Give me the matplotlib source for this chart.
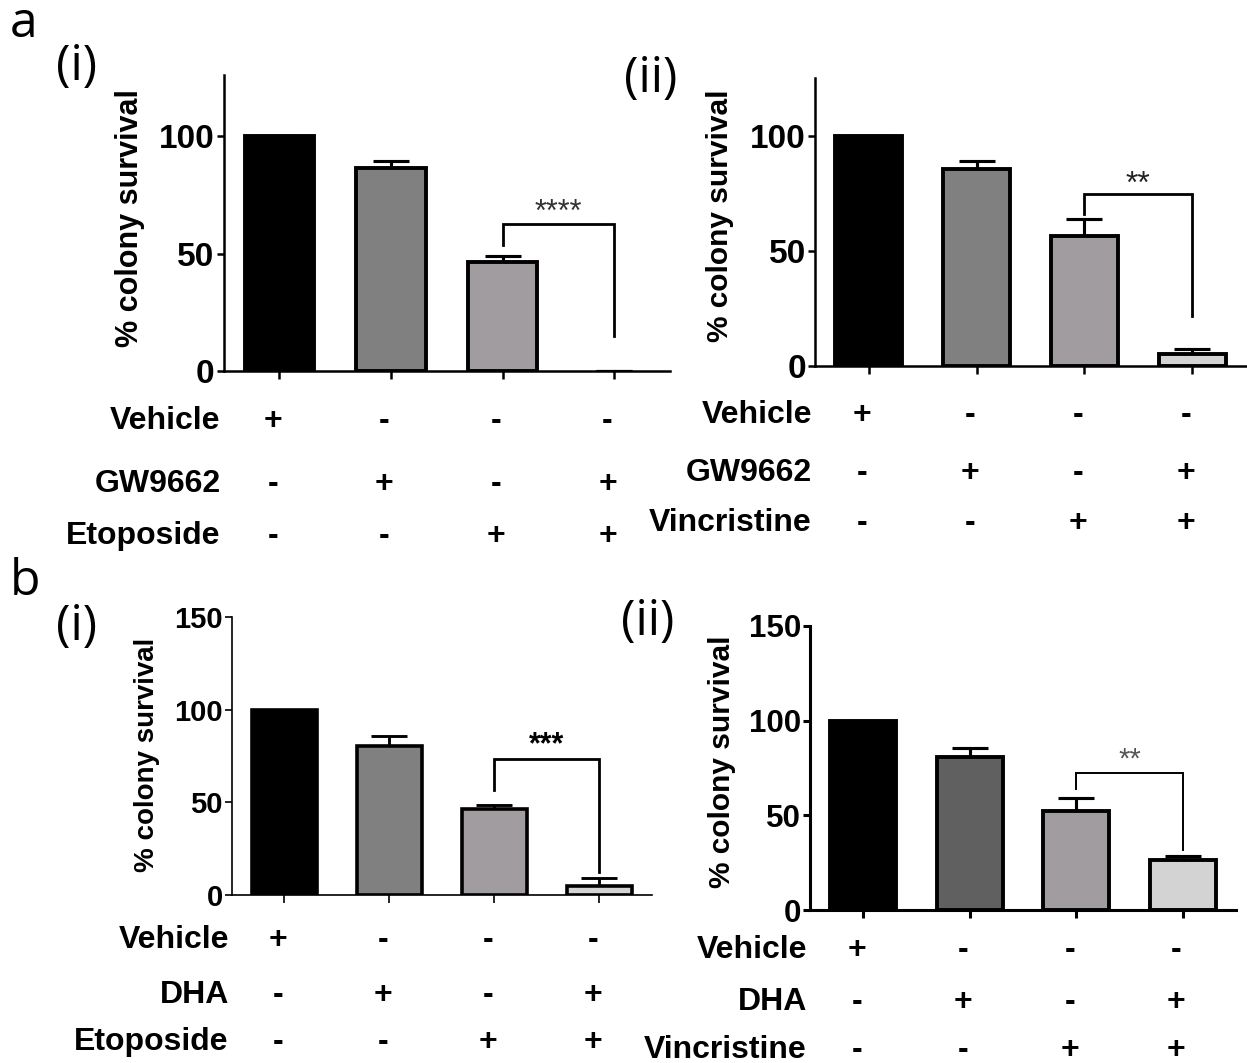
import matplotlib
matplotlib.use('Agg')
from matplotlib import pyplot as plt
from matplotlib import transforms

# bar heights and SEM, order: vehicle, drug, chemo, drug + chemo
a_i_values = [100, 86.3, 46.2, 0]
a_i_errors = [0, 2.8, 2.6, 0]
a_ii_values = [100, 85.8, 56.6, 5.1]
a_ii_errors = [0, 3.4, 7.3, 2.0]
b_i_values = [100, 80.5, 46.3, 4.9]
b_i_errors = [0, 5.1, 2.3, 4.4]
b_ii_values = [100, 80.6, 52.2, 26.2]
b_ii_errors = [0, 4.7, 7.1, 2.5]

# treatment rows under each chart
vehicle_row = ['+', '-', '-', '-']
drug_row = ['-', '+', '-', '+']
chemo_row = ['-', '-', '+', '+']

a_i_rows = ['Vehicle', 'GW9662', 'Etoposide']
a_ii_rows = ['Vehicle', 'GW9662', 'Vincristine']
b_i_rows = ['Vehicle', 'DHA', 'Etoposide']
b_ii_rows = ['Vehicle', 'DHA', 'Vincristine']

# significance brackets: bar level, left leg end, right leg end, stars level
a_i_sig = (62.6, 53.8, 15.1, 67.4, '****')
a_ii_sig = (74.7, 66.1, 21.7, 79.0, '**')
b_i_sig = (73.5, 56.8, 12.6, 81.0, '***')
b_ii_sig = (72.1, 63.7, 31.9, 79.7, '**')

a_yticks = [0, 50, 100]
b_yticks = [0, 50, 100, 150]

W, H = 1247, 1063
plt.rcParams['font.family'] = ['Liberation Sans', 'DejaVu Sans']

fig = plt.figure(figsize=(W / 100, H / 100), dpi=100)


def fx(px):
    return px / W


def fy(py):
    return 1 - py / H


def panel(rect, values, errors, colors, yticks, ylim, rows, row_y, sig,
          spine_lw, edge_lw, br_lw, tick_size, lab_size, lab_xy, star_color,
          star_weight, star_size, name, name_xy):
    left, top, right, bottom = rect
    ax = fig.add_axes([fx(left), fy(bottom), fx(right - left), (bottom - top) / H])
    x = range(len(values))
    edges = ['black' if v > 0 else 'none' for v in values]
    ax.bar(x, values, width=0.62, color=colors, edgecolor=edges,
           linewidth=edge_lw, zorder=2)
    ax.errorbar(x, values, yerr=[[0] * len(errors), errors], fmt='none',
                ecolor='black', elinewidth=edge_lw * 0.8, capsize=13,
                capthick=edge_lw * 0.8, zorder=1)
    ax.set_xlim(-0.5, 3.5)
    ax.set_ylim(*ylim)
    ax.set_yticks(yticks)
    ax.set_xticks(list(x))
    ax.set_xticklabels([])
    for s in ['top', 'right']:
        ax.spines[s].set_visible(False)
    for s in ['left', 'bottom']:
        ax.spines[s].set_linewidth(spine_lw)
    ax.tick_params(axis='y', length=5, width=spine_lw, pad=1.5,
                   labelsize=tick_size)
    ax.tick_params(axis='x', length=6, width=spine_lw)
    for lab in ax.get_yticklabels():
        lab.set_fontweight('bold')

    # significance bracket
    y_bar, y_l, y_r, y_star, stars = sig
    ax.plot([2, 2, 3, 3], [y_l, y_bar, y_bar, y_r], color='black',
            lw=br_lw, solid_joinstyle='miter', clip_on=False)
    ax.text(2.5, y_star, stars, ha='center', va='center', fontsize=star_size,
            color=star_color, fontweight=star_weight)

    fig.text(fx(lab_xy[0]), fy(lab_xy[1]), '% colony survival', rotation=90,
             ha='center', va='center', fontsize=lab_size, fontweight='bold')

    trans = transforms.blended_transform_factory(ax.transData, fig.transFigure)
    for label, signs, yy in zip(rows, [vehicle_row, drug_row, chemo_row], row_y):
        fig.text(fx(left - 3), fy(yy), label, ha='right', va='center',
                 fontsize=23, fontweight='bold')
        for i, s in enumerate(signs):
            ax.text(i - 0.06, fy(yy), s, transform=trans, ha='center',
                    va='center', fontsize=23, fontweight='bold')

    fig.text(fx(name_xy[0]), fy(name_xy[1]), name, ha='left', va='center',
             fontsize=35, family=['Open Sans', 'DejaVu Sans'])
    return ax


panel((223.7, 75, 670, 371.4), a_i_values, a_i_errors,
      ['black', '#808080', '#a09ca0', '#d3d3d3'], a_yticks, (0, 125.7),
      a_i_rows, [421, 484, 536], a_i_sig, 1.8, 2.8, 2.0, 24, 22, (130, 218),
      '#333333', 'normal', 22, '(i)', (56, 67))

panel((814.8, 78, 1246, 365.7), a_ii_values, a_ii_errors,
      ['black', '#808080', '#a09ca0', '#d3d3d3'], a_yticks, (0, 125.4),
      a_ii_rows, [415, 473, 523], a_ii_sig, 1.8, 2.8, 2.0, 24, 21.5, (720, 216),
      '#222222', 'normal', 23, '(ii)', (624, 79))

panel((231.8, 617, 652, 895), b_i_values, b_i_errors,
      ['black', '#808080', '#a09ca0', '#d3d3d3'], b_yticks, (0, 150),
      b_i_rows, [940, 995, 1042], b_i_sig, 1.2, 2.6, 2.0, 21, 20, (147, 755),
      'black', 'bold', 22, '(i)', (56, 627))

panel((810, 626, 1236, 910), b_ii_values, b_ii_errors,
      ['black', '#606060', '#a09ca0', '#d3d3d3'], b_yticks, (0, 150),
      b_ii_rows, [950, 1002, 1050], b_ii_sig, 2.2, 2.8, 1.4, 22.5, 21.5,
      (722, 762), '#555555', 'normal', 21, '(ii)', (621, 622))

fig.text(fx(10), fy(24), 'a', ha='left', va='center', fontsize=36,
         family=['Open Sans', 'DejaVu Sans'])
fig.text(fx(10), fy(582), 'b', ha='left', va='center', fontsize=36,
         family=['Open Sans', 'DejaVu Sans'])

fig.savefig('out.png', dpi=100)
